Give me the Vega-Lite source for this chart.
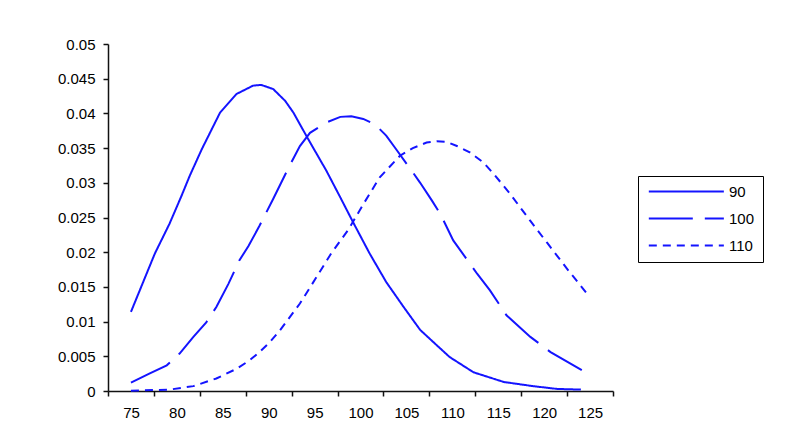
{
  "$schema": "https://vega.github.io/schema/vega-lite/v6.json",
  "width": 505,
  "height": 347,
  "autosize": {"type": "none"},
  "padding": {"left": 108, "top": 44, "right": 187, "bottom": 49},
  "background": "white",
  "config": {"view": {"stroke": null}, "font": "Liberation Sans"},
  "data": {
    "values": [
      {"x": 75.0, "y": 0.0114, "s": "90"},
      {"x": 77.6, "y": 0.0198, "s": "90"},
      {"x": 79.2, "y": 0.0241, "s": "90"},
      {"x": 80.5, "y": 0.0281, "s": "90"},
      {"x": 81.4, "y": 0.0310, "s": "90"},
      {"x": 82.7, "y": 0.0348, "s": "90"},
      {"x": 84.7, "y": 0.0401, "s": "90"},
      {"x": 86.5, "y": 0.0428, "s": "90"},
      {"x": 88.3, "y": 0.0440, "s": "90"},
      {"x": 89.2, "y": 0.0441, "s": "90"},
      {"x": 90.5, "y": 0.0435, "s": "90"},
      {"x": 91.8, "y": 0.0418, "s": "90"},
      {"x": 92.7, "y": 0.0401, "s": "90"},
      {"x": 94.3, "y": 0.0363, "s": "90"},
      {"x": 96.3, "y": 0.0317, "s": "90"},
      {"x": 97.8, "y": 0.0279, "s": "90"},
      {"x": 99.2, "y": 0.0243, "s": "90"},
      {"x": 101.0, "y": 0.0198, "s": "90"},
      {"x": 102.8, "y": 0.0157, "s": "90"},
      {"x": 104.7, "y": 0.0121, "s": "90"},
      {"x": 106.5, "y": 0.0088, "s": "90"},
      {"x": 108.3, "y": 0.0066, "s": "90"},
      {"x": 109.7, "y": 0.0049, "s": "90"},
      {"x": 112.3, "y": 0.0027, "s": "90"},
      {"x": 115.6, "y": 0.0013, "s": "90"},
      {"x": 118.8, "y": 0.0007, "s": "90"},
      {"x": 121.4, "y": 0.0003, "s": "90"},
      {"x": 124.0, "y": 0.0002, "s": "90"},
      {"x": 75.0, "y": 0.0012, "s": "100"},
      {"x": 77.0, "y": 0.0025, "s": "100"},
      {"x": 78.9, "y": 0.0037, "s": "100"},
      {"x": 80.3, "y": 0.0054, "s": "100"},
      {"x": 81.8, "y": 0.0078, "s": "100"},
      {"x": 83.2, "y": 0.0099, "s": "100"},
      {"x": 84.3, "y": 0.0121, "s": "100"},
      {"x": 85.6, "y": 0.0154, "s": "100"},
      {"x": 86.8, "y": 0.0188, "s": "100"},
      {"x": 87.8, "y": 0.0209, "s": "100"},
      {"x": 89.0, "y": 0.0238, "s": "100"},
      {"x": 90.5, "y": 0.0277, "s": "100"},
      {"x": 92.1, "y": 0.0320, "s": "100"},
      {"x": 93.4, "y": 0.0353, "s": "100"},
      {"x": 94.5, "y": 0.0372, "s": "100"},
      {"x": 96.3, "y": 0.0387, "s": "100"},
      {"x": 97.8, "y": 0.0395, "s": "100"},
      {"x": 99.0, "y": 0.0396, "s": "100"},
      {"x": 100.3, "y": 0.0392, "s": "100"},
      {"x": 101.6, "y": 0.0384, "s": "100"},
      {"x": 102.8, "y": 0.0368, "s": "100"},
      {"x": 103.9, "y": 0.0348, "s": "100"},
      {"x": 105.7, "y": 0.0315, "s": "100"},
      {"x": 106.5, "y": 0.0300, "s": "100"},
      {"x": 107.8, "y": 0.0274, "s": "100"},
      {"x": 108.7, "y": 0.0255, "s": "100"},
      {"x": 110.1, "y": 0.0217, "s": "100"},
      {"x": 112.7, "y": 0.0169, "s": "100"},
      {"x": 114.1, "y": 0.0145, "s": "100"},
      {"x": 115.9, "y": 0.0109, "s": "100"},
      {"x": 118.5, "y": 0.0078, "s": "100"},
      {"x": 120.7, "y": 0.0056, "s": "100"},
      {"x": 124.1, "y": 0.0030, "s": "100"},
      {"x": 75.0, "y": 0.00005, "s": "110"},
      {"x": 79.2, "y": 0.0002, "s": "110"},
      {"x": 81.8, "y": 0.0007, "s": "110"},
      {"x": 84.3, "y": 0.0018, "s": "110"},
      {"x": 86.5, "y": 0.0032, "s": "110"},
      {"x": 87.9, "y": 0.0044, "s": "110"},
      {"x": 89.0, "y": 0.0056, "s": "110"},
      {"x": 90.1, "y": 0.0070, "s": "110"},
      {"x": 91.2, "y": 0.0087, "s": "110"},
      {"x": 93.4, "y": 0.0126, "s": "110"},
      {"x": 95.2, "y": 0.0164, "s": "110"},
      {"x": 96.8, "y": 0.0198, "s": "110"},
      {"x": 98.7, "y": 0.0233, "s": "110"},
      {"x": 100.3, "y": 0.0269, "s": "110"},
      {"x": 102.1, "y": 0.0308, "s": "110"},
      {"x": 104.3, "y": 0.0339, "s": "110"},
      {"x": 105.7, "y": 0.0350, "s": "110"},
      {"x": 107.2, "y": 0.0358, "s": "110"},
      {"x": 108.3, "y": 0.0360, "s": "110"},
      {"x": 109.4, "y": 0.0359, "s": "110"},
      {"x": 110.5, "y": 0.0353, "s": "110"},
      {"x": 111.9, "y": 0.0344, "s": "110"},
      {"x": 113.4, "y": 0.0329, "s": "110"},
      {"x": 114.5, "y": 0.0313, "s": "110"},
      {"x": 116.3, "y": 0.0284, "s": "110"},
      {"x": 118.5, "y": 0.0245, "s": "110"},
      {"x": 120.3, "y": 0.0214, "s": "110"},
      {"x": 122.5, "y": 0.0176, "s": "110"},
      {"x": 124.8, "y": 0.0138, "s": "110"}
    ]
  },
  "mark": {"type": "line", "color": "#1414ff", "strokeWidth": 2},
  "encoding": {
    "x": {
      "field": "x",
      "type": "quantitative",
      "scale": {"domain": [72.5, 127.5], "nice": false, "zero": false},
      "axis": {
        "title": null,
        "values": [72.5, 77.5, 82.5, 87.5, 92.5, 97.5, 102.5, 107.5, 112.5, 117.5, 122.5, 127.5],
        "labelExpr": "datum.value < 127 ? format(datum.value + 2.5, 'd') : ''",
        "labelOffset": 23,
        "grid": false,
        "tickSize": 5,
        "labelPadding": 9,
        "labelFontSize": 15,
        "labelColor": "black",
        "domainColor": "#111",
        "tickColor": "#111",
        "domainWidth": 1.5,
        "tickWidth": 1.5,
        "labelOverlap": false,
        "labelFlush": false,
        "labelBound": false
      }
    },
    "y": {
      "field": "y",
      "type": "quantitative",
      "scale": {"domain": [0, 0.05], "nice": false},
      "axis": {
        "title": null,
        "values": [0, 0.005, 0.01, 0.015, 0.02, 0.025, 0.03, 0.035, 0.04, 0.045, 0.05],
        "format": ".3~f",
        "grid": false,
        "tickSize": 5,
        "labelPadding": 8,
        "labelFontSize": 15,
        "labelColor": "black",
        "domainColor": "#111",
        "tickColor": "#111",
        "domainWidth": 1.5,
        "tickWidth": 1.5,
        "labelOverlap": false,
        "labelFlush": false,
        "labelBound": false
      }
    },
    "strokeDash": {
      "field": "s",
      "type": "nominal",
      "scale": {"domain": ["90", "100", "110"], "range": [[1, 0], [44, 12], [8, 6]]},
      "legend": {
        "title": null,
        "orient": "none",
        "direction": "vertical",
        "legendX": 530,
        "legendY": 132,
        "symbolType": "M-1,0H15",
        "symbolSize": 88,
        "symbolStrokeWidth": 2,
        "symbolStrokeColor": "#1414ff",
        "labelFontSize": 15,
        "labelColor": "black",
        "labelOffset": 68,
        "rowPadding": 11,
        "padding": 8,
        "strokeColor": "black"
      }
    }
  }
}
